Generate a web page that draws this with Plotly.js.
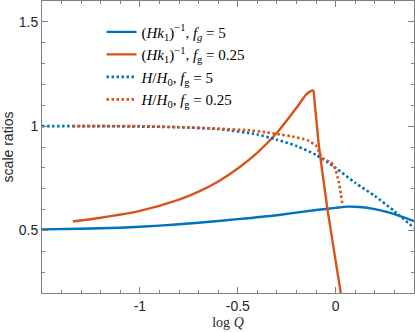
<!DOCTYPE html>
<html>
<head>
<meta charset="utf-8">
<script src="https://cdn.plot.ly/plotly-3.0.1.min.js"></script>
<style>
  html, body { margin: 0; padding: 0; background: #fff; }
  #plot { width: 415px; height: 332px; }
</style>
</head>
<body>
<div id="plot"></div>
<script>
const BLUE = "#0072BD";
const ORANGE = "#D95319";

// (Hk1)^-1, fg = 5
const hkFg5X = [-1.5, -1.3, -1.1, -0.9, -0.7, -0.5, -0.3, -0.1, 0.0, 0.06, 0.12, 0.2, 0.28, 0.4];
const hkFg5Y = [0.505, 0.508, 0.513, 0.523, 0.537, 0.554, 0.573, 0.598, 0.608, 0.614, 0.612, 0.602, 0.584, 0.545];

// (Hk1)^-1, fg = 0.25 : rising branch up to the cusp, then the steep fall
const hkFg025RiseX = [-1.343, -1.2, -1.0, -0.8, -0.7, -0.6, -0.5, -0.4, -0.3, -0.2, -0.15, -0.125, -0.113];
const hkFg025RiseY = [0.543, 0.561, 0.594, 0.648, 0.686, 0.735, 0.797, 0.873, 0.968, 1.088, 1.152, 1.169, 1.172];
const hkFg025FallX = [-0.113, -0.085, -0.042, 0.026, 0.036];
const hkFg025FallY = [1.172, 0.900, 0.602, 0.200, 0.140];

// H/H0, fg = 5
const hFg5X = [-1.5, -1.2, -1.0, -0.8, -0.6, -0.4, -0.3, -0.2, -0.1, 0.0, 0.1, 0.2, 0.3, 0.4];
const hFg5Y = [1.0, 1.0, 0.998, 0.995, 0.986, 0.960, 0.935, 0.905, 0.862, 0.800, 0.728, 0.665, 0.592, 0.512];

// H/H0, fg = 0.25
const hFg025X = [-1.343, -1.0, -0.8, -0.6, -0.45, -0.35, -0.28, -0.23, -0.145, -0.102, -0.085, -0.073, -0.051, -0.029, -0.012, 0.0, 0.009, 0.017, 0.026, 0.0345];
const hFg025Y = [1.0, 1.0, 0.995, 0.988, 0.981, 0.970, 0.959, 0.952, 0.933, 0.909, 0.877, 0.850, 0.838, 0.829, 0.814, 0.790, 0.758, 0.726, 0.678, 0.623];

const xTickVals = [-1, -0.5, 0];
const xTickText = ["-1", "-0.5", "0"];
const yTickVals = [0.5, 1, 1.5];
const yTickText = ["0.5", "1", "1.5"];

const names = [
  "(<i>Hk</i><sub>1</sub>)<sup>\u22121</sup>, <i>f<sub>g</sub></i> = 5",
  "(<i>Hk</i><sub>1</sub>)<sup>\u22121</sup>, <i>f</i><sub>g</sub> = 0.25",
  "<i>H</i>/<i>H</i><sub>0</sub>, <i>f</i><sub>g</sub> = 5",
  "<i>H</i>/<i>H</i><sub>0</sub>, <i>f</i><sub>g</sub> = 0.25",
];

const dotted = "2.5px,2.5px";

const traces = [
  { x: hkFg5X, y: hkFg5Y, name: names[0], line: { color: BLUE, width: 2.4, shape: "spline", smoothing: 0.6 } },
  { x: hkFg025RiseX, y: hkFg025RiseY, name: names[1], legendgroup: "o", line: { color: ORANGE, width: 2.4, shape: "spline", smoothing: 0.6 } },
  { x: hkFg025FallX, y: hkFg025FallY, name: names[1], legendgroup: "o", showlegend: false, line: { color: ORANGE, width: 2.4, shape: "spline", smoothing: 0.4 } },
  { x: hFg5X, y: hFg5Y, name: names[2], line: { color: BLUE, width: 2.6, dash: dotted, shape: "spline", smoothing: 0.6 } },
  { x: hFg025X, y: hFg025Y, name: names[3], line: { color: ORANGE, width: 2.6, dash: dotted, shape: "spline", smoothing: 0.3 } },
].map((t) => ({ ...t, type: "scatter", mode: "lines", hoverinfo: "skip" }));

const axisCommon = {
  showline: true,
  linecolor: "#808080",
  linewidth: 1,
  mirror: "allticks",
  ticks: "inside",
  ticklen: 6,
  tickcolor: "#808080",
  showgrid: false,
  zeroline: false,
  tickfont: { family: "Liberation Sans, Arial, sans-serif", size: 14, color: "#262626" },
  minor: { ticks: "inside", ticklen: 3, tickcolor: "#808080", dtick: 0.1, tick0: 0, showgrid: false },
};

Plotly.newPlot("plot", traces, {
  width: 415,
  height: 332,
  paper_bgcolor: "#ffffff",
  plot_bgcolor: "#ffffff",
  margin: { t: 1, r: 1, b: 39, l: 42 },
  showlegend: true,
  legend: {
    x: 0.16,
    y: 0.95,
    xanchor: "left",
    yanchor: "top",
    bgcolor: "rgba(0,0,0,0)",
    borderwidth: 0,
    font: { family: "Liberation Serif, serif", size: 15, color: "#000" },
    tracegroupgap: 0,
  },
  xaxis: {
    ...axisCommon,
    range: [-1.5, 0.4],
    tickvals: xTickVals,
    ticktext: xTickText,
    title: { text: "log <i>Q</i>", font: { family: "Liberation Serif, serif", size: 14, color: "#262626" }, standoff: 4 },
  },
  yaxis: {
    ...axisCommon,
    range: [0.2, 1.6],
    tickvals: yTickVals,
    ticktext: yTickText,
    title: { text: "scale ratios", font: { family: "Liberation Sans, Arial, sans-serif", size: 14, color: "#262626" }, standoff: 6 },
  },
}, { displayModeBar: false, staticPlot: true });
</script>
</body>
</html>
